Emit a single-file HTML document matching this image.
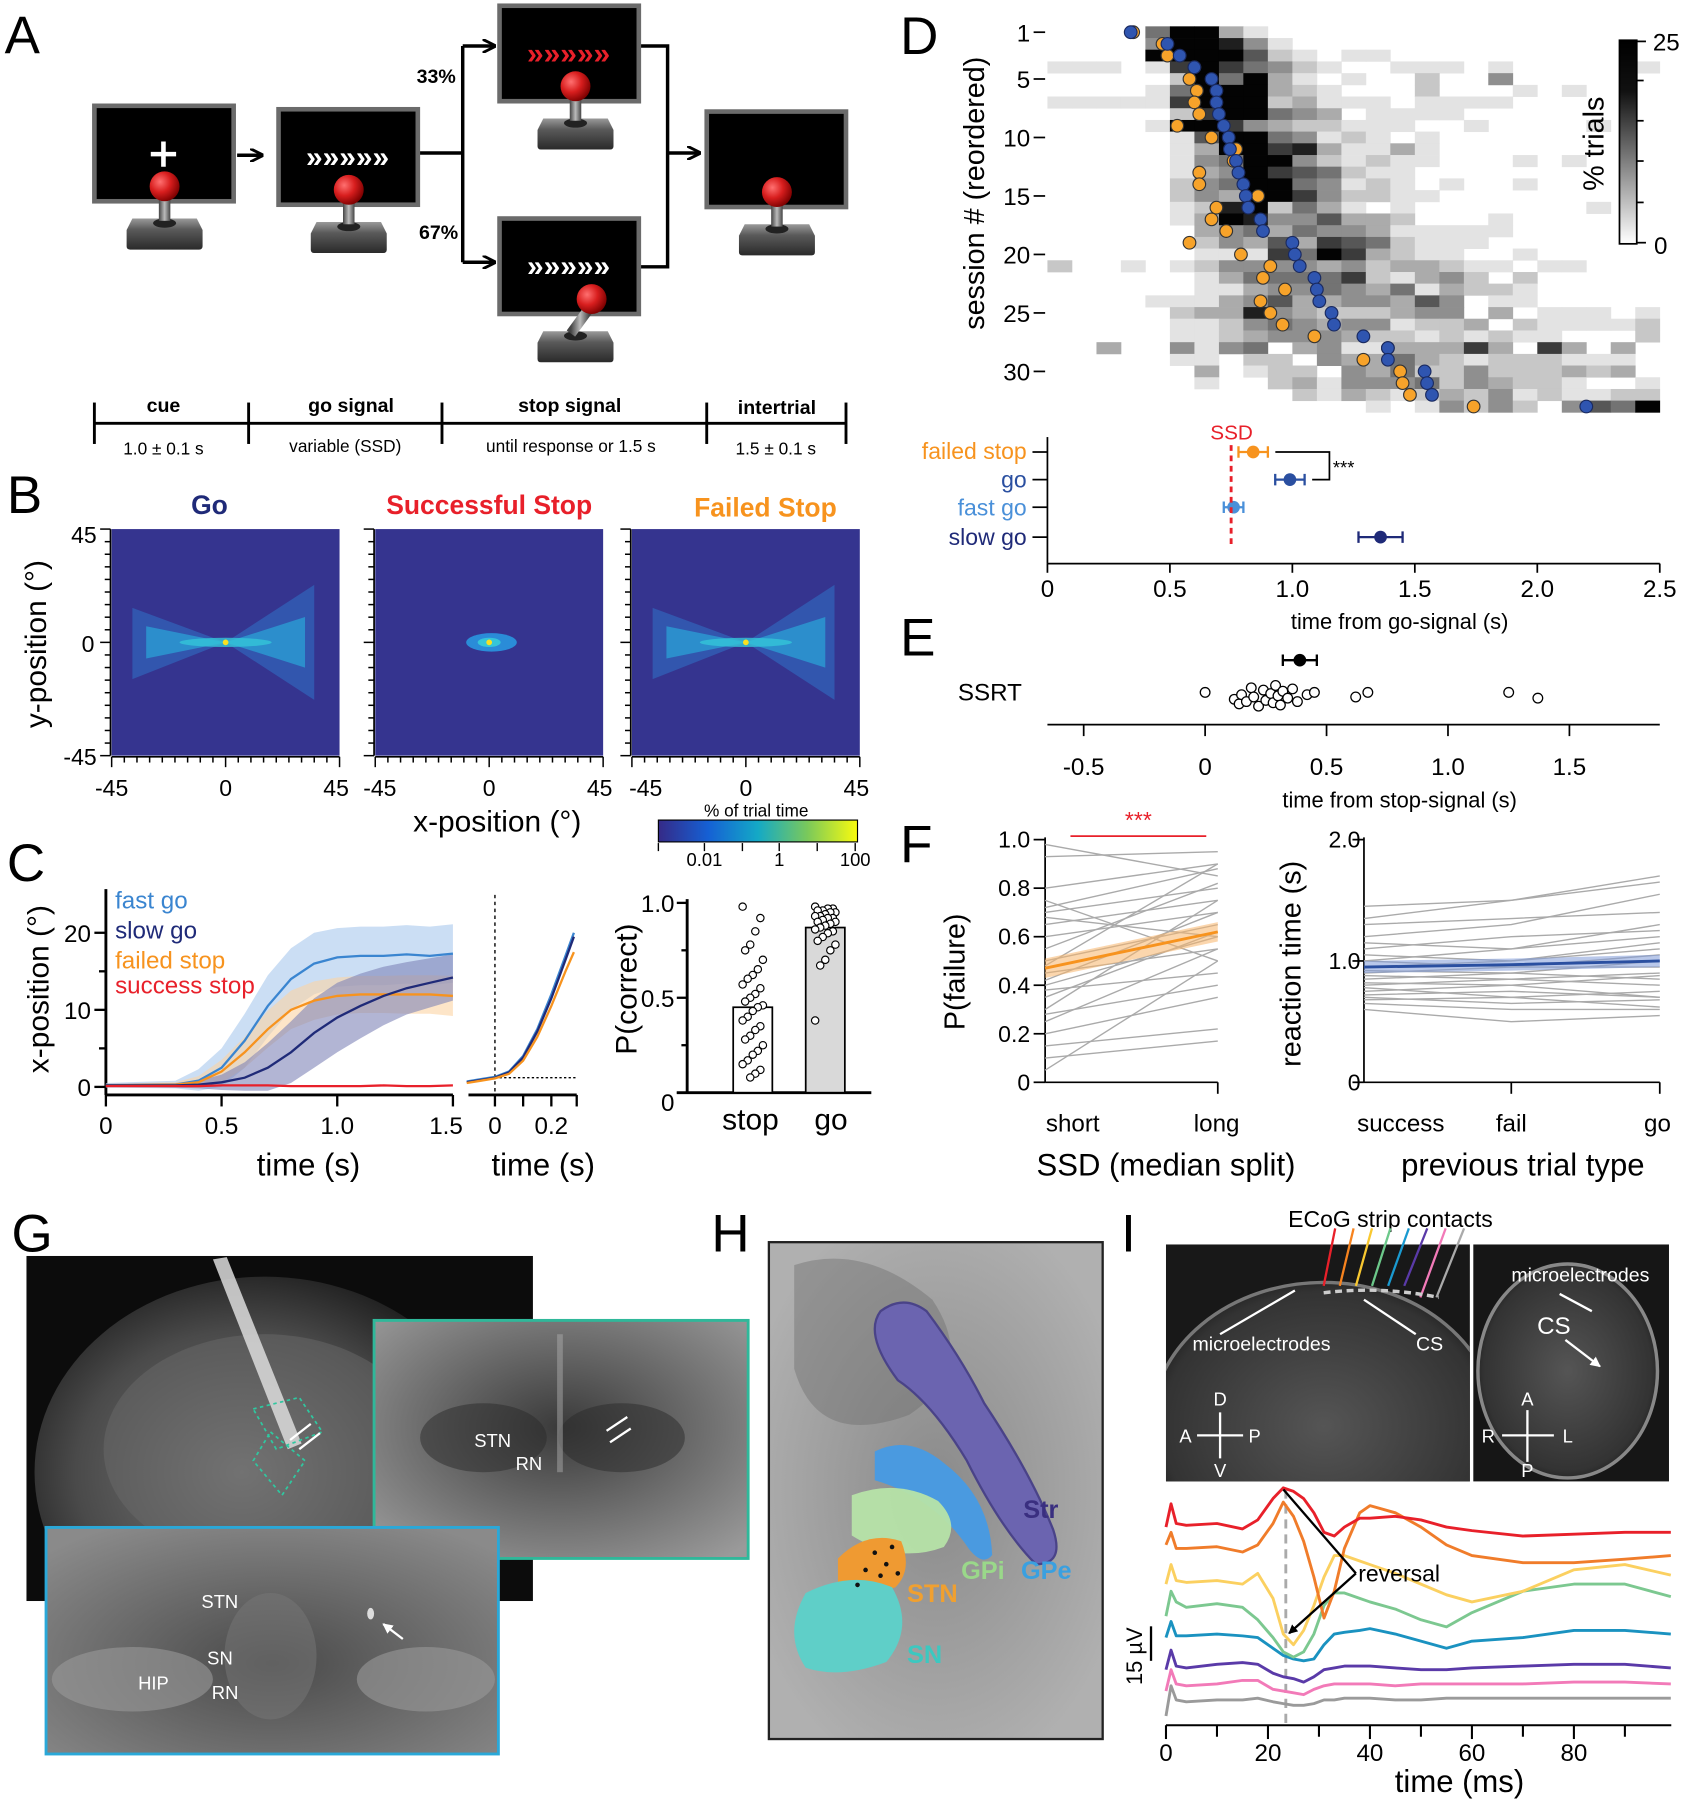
<!DOCTYPE html>
<html><head><meta charset="utf-8">
<style>
html,body{margin:0;padding:0;background:#fff;}
svg{display:block;font-family:"Liberation Sans",Arial,sans-serif;}
</style></head>
<body>
<svg id="fig" xmlns="http://www.w3.org/2000/svg" width="1692" height="1800" viewBox="0 0 1470 1565" preserveAspectRatio="none">
<defs>
<radialGradient id="ball" cx="0.35" cy="0.35" r="0.7"><stop offset="0" stop-color="#ff7070"/><stop offset="0.5" stop-color="#d81e1e"/><stop offset="1" stop-color="#7a0000"/></radialGradient>
<linearGradient id="base" x1="0" y1="0" x2="0" y2="1"><stop offset="0" stop-color="#9a9a9a"/><stop offset="0.35" stop-color="#5a5a5a"/><stop offset="1" stop-color="#2a2a2a"/></linearGradient>
<linearGradient id="stick" x1="0" y1="0" x2="1" y2="0"><stop offset="0" stop-color="#444"/><stop offset="0.5" stop-color="#bbb"/><stop offset="1" stop-color="#444"/></linearGradient>
<linearGradient id="cbar" x1="0" y1="0" x2="1" y2="0"><stop offset="0" stop-color="#352a87"/><stop offset="0.25" stop-color="#1560d4"/><stop offset="0.5" stop-color="#14a9c6"/><stop offset="0.75" stop-color="#7bc95a"/><stop offset="1" stop-color="#f9fb0e"/></linearGradient>
<linearGradient id="gbar" x1="0" y1="0" x2="0" y2="1"><stop offset="0" stop-color="#000"/><stop offset="0.25" stop-color="#111"/><stop offset="1" stop-color="#fff"/></linearGradient>
<radialGradient id="mri1" cx="0.45" cy="0.5" r="0.6"><stop offset="0" stop-color="#7a7a7a"/><stop offset="0.6" stop-color="#4a4a4a"/><stop offset="1" stop-color="#111"/></radialGradient>
<radialGradient id="mri2" cx="0.5" cy="0.45" r="0.7"><stop offset="0" stop-color="#3a3a3a"/><stop offset="0.5" stop-color="#6a6a6a"/><stop offset="1" stop-color="#9a9a9a"/></radialGradient>
<radialGradient id="mri3" cx="0.5" cy="0.6" r="0.7"><stop offset="0" stop-color="#4a4a4a"/><stop offset="1" stop-color="#8a8a8a"/></radialGradient>
<radialGradient id="mri4" cx="0.5" cy="0.5" r="0.6"><stop offset="0" stop-color="#8a8a8a"/><stop offset="1" stop-color="#b0b0b0"/></radialGradient>
<radialGradient id="mri5" cx="0.5" cy="0.5" r="0.55"><stop offset="0" stop-color="#555"/><stop offset="0.85" stop-color="#333"/><stop offset="1" stop-color="#1a1a1a"/></radialGradient>
<clipPath id="clipG"><rect x="23" y="1092" width="440" height="300"/></clipPath>
<clipPath id="clipI1"><rect x="1013" y="1082" width="264" height="206"/></clipPath>
<clipPath id="clipI2"><rect x="1280" y="1082" width="170" height="206"/></clipPath>
<marker id="arrK" markerWidth="8" markerHeight="8" refX="7" refY="4" orient="auto" markerUnits="userSpaceOnUse"><path d="M0,0 L8,4 L0,8 Z" fill="#000"/></marker>
<marker id="arrA" markerWidth="12" markerHeight="12" refX="11" refY="6" orient="auto" markerUnits="userSpaceOnUse"><path d="M0,0 L12,6 L0,12" fill="none" stroke="#000" stroke-width="2.5"/></marker>
<marker id="arrW" markerWidth="9" markerHeight="9" refX="8" refY="4.5" orient="auto" markerUnits="userSpaceOnUse"><path d="M0,0 L9,4.5 L0,9 Z" fill="#fff"/></marker>
</defs>

<!-- ============ PANEL A ============ -->
<g id="panelA">
<text x="4" y="46" font-size="46">A</text>
<g fill="none" stroke="#000" stroke-width="3">
<path d="M206,135 H228" marker-end="url(#arrA)"/>
<path d="M364,133 H402 M402,40 V228"/>
<path d="M402,40 H430" marker-end="url(#arrA)"/>
<path d="M402,228 H430" marker-end="url(#arrA)"/>
<path d="M556,40 H580 V232 H556"/>
<path d="M580,133 H608" marker-end="url(#arrA)"/>
</g>
<text x="362" y="72" font-size="17" font-weight="bold">33%</text>
<text x="364" y="208" font-size="17" font-weight="bold">67%</text>
<g id="monitors"></g>
<g stroke="#000" stroke-width="2.5">
<line x1="82" y1="368" x2="735" y2="368"/>
<line x1="82" y1="350" x2="82" y2="386"/><line x1="216" y1="350" x2="216" y2="386"/>
<line x1="384" y1="350" x2="384" y2="386"/><line x1="614" y1="350" x2="614" y2="386"/>
<line x1="735" y1="350" x2="735" y2="386"/>
</g>
<g font-size="17" font-weight="bold" text-anchor="middle">
<text x="142" y="358">cue</text><text x="305" y="358">go signal</text>
<text x="495" y="358">stop signal</text><text x="675" y="360">intertrial</text>
</g>
<g font-size="15" text-anchor="middle">
<text x="142" y="395">1.0 ± 0.1 s</text><text x="300" y="393">variable (SSD)</text>
<text x="496" y="393">until response or 1.5 s</text><text x="674" y="395">1.5 ± 0.1 s</text>
</g>
</g>

<!-- ============ PANEL B ============ -->
<g id="panelB">
<text x="6" y="446" font-size="46">B</text>
<text x="182" y="447" font-size="23" font-weight="bold" fill="#1f2a78" text-anchor="middle">Go</text>
<text x="425" y="447" font-size="23" font-weight="bold" fill="#e8202a" text-anchor="middle">Successful Stop</text>
<text x="665" y="449" font-size="23" font-weight="bold" fill="#f7931e" text-anchor="middle">Failed Stop</text>
<g id="bmaps"></g>
<g font-size="20" text-anchor="end">
<text x="84" y="472">45</text><text x="82" y="567">0</text><text x="84" y="665">-45</text>
</g>
<text transform="translate(40,560) rotate(-90)" font-size="26" text-anchor="middle">y-position (°)</text>
<g font-size="20" text-anchor="middle">
<text x="97" y="692">-45</text><text x="196" y="692">0</text><text x="292" y="692">45</text>
<text x="330" y="692">-45</text><text x="425" y="692">0</text><text x="521" y="692">45</text>
<text x="561" y="692">-45</text><text x="648" y="692">0</text><text x="744" y="692">45</text>
</g>
<text x="432" y="723" font-size="26" text-anchor="middle">x-position (°)</text>
<text x="657" y="710" font-size="15" text-anchor="middle">% of trial time</text>
<rect x="572" y="713" width="173" height="19" fill="url(#cbar)" stroke="#000" stroke-width="1"/>
<g stroke="#000" stroke-width="1.2"><line x1="572" y1="733" x2="572" y2="740"/><line x1="612" y1="733" x2="612" y2="740"/><line x1="645" y1="733" x2="645" y2="740"/><line x1="677" y1="733" x2="677" y2="740"/><line x1="710" y1="733" x2="710" y2="740"/><line x1="743" y1="733" x2="743" y2="740"/></g>
<g font-size="16" text-anchor="middle"><text x="612" y="753">0.01</text><text x="677" y="753">1</text><text x="743" y="753">100</text></g>
</g>

<!-- ============ PANEL C ============ -->
<g id="panelC">
<text x="6" y="766" font-size="46">C</text>
<g id="cplot"></g>
<text transform="translate(42,860) rotate(-90)" font-size="26" text-anchor="middle">x-position (°)</text>
<text x="268" y="1022" font-size="27" text-anchor="middle">time (s)</text>
<text x="472" y="1022" font-size="27" text-anchor="middle">time (s)</text>
<g font-size="21">
<text x="100" y="790" fill="#3a85d0">fast go</text>
<text x="100" y="816" fill="#1f2a78">slow go</text>
<text x="100" y="842" fill="#f7931e">failed stop</text>
<text x="100" y="864" fill="#e8202a">success stop</text>
</g>
<text transform="translate(553,860) rotate(-90)" font-size="26" text-anchor="middle">P(correct)</text>
<text x="652" y="982" font-size="26" text-anchor="middle">stop</text>
<text x="722" y="982" font-size="26" text-anchor="middle">go</text>
</g>

<!-- ============ PANEL D ============ -->
<g id="panelD">
<text x="782" y="47" font-size="46">D</text>
<g id="dplot"></g>
<text transform="translate(855,168) rotate(-90)" font-size="25" text-anchor="middle">session # (reordered)</text>
<rect x="1407" y="35" width="15" height="177" fill="url(#gbar)" stroke="#000" stroke-width="1.5"/>
<g stroke="#000" stroke-width="1.5"><line x1="1422" y1="36" x2="1430" y2="36"/><line x1="1422" y1="70" x2="1428" y2="70"/><line x1="1422" y1="105" x2="1428" y2="105"/><line x1="1422" y1="140" x2="1428" y2="140"/><line x1="1422" y1="176" x2="1428" y2="176"/><line x1="1422" y1="211" x2="1430" y2="211"/></g>
<text x="1436" y="44" font-size="21">25</text><text x="1437" y="221" font-size="21">0</text>
<text transform="translate(1393,125) rotate(-90)" font-size="25" text-anchor="middle">% trials</text>
<g font-size="20" text-anchor="end">
<text x="892" y="399" fill="#f7931e">failed stop</text>
<text x="892" y="424" fill="#2a4fa0">go</text>
<text x="892" y="448" fill="#4a90d9">fast go</text>
<text x="892" y="474" fill="#1f2a78">slow go</text>
</g>
<text x="1070" y="382" font-size="18" fill="#e8202a" text-anchor="middle">SSD</text>
<text x="1216" y="547" font-size="19" text-anchor="middle">time from go-signal (s)</text>
</g>

<!-- ============ PANEL E ============ -->
<g id="panelE">
<text x="782" y="570" font-size="46">E</text>
<text x="860" y="609" font-size="21" text-anchor="middle">SSRT</text>
<g id="eplot"></g>
<text x="1216" y="702" font-size="19" text-anchor="middle">time from stop-signal (s)</text>
</g>

<!-- ============ PANEL F ============ -->
<g id="panelF">
<text x="782" y="750" font-size="46">F</text>
<g id="fplot"></g>
<text transform="translate(838,845) rotate(-90)" font-size="25" text-anchor="middle">P(failure)</text>
<text transform="translate(1130,838) rotate(-90)" font-size="25" text-anchor="middle">reaction time (s)</text>
<text x="932" y="984" font-size="21" text-anchor="middle">short</text>
<text x="1057" y="984" font-size="21" text-anchor="middle">long</text>
<text x="1217" y="984" font-size="21" text-anchor="middle">success</text>
<text x="1313" y="984" font-size="21" text-anchor="middle">fail</text>
<text x="1440" y="984" font-size="21" text-anchor="middle">go</text>
<text x="1013" y="1022" font-size="27" text-anchor="middle">SSD (median split)</text>
<text x="1323" y="1022" font-size="27" text-anchor="middle">previous trial type</text>
<line x1="930" y1="727" x2="1048" y2="727" stroke="#e8202a" stroke-width="1.5"/>
<text x="989" y="720" font-size="20" fill="#e8202a" text-anchor="middle">***</text>
</g>

<!-- ============ PANEL G ============ -->
<g id="panelG">
<text x="10" y="1088" font-size="46">G</text>
<rect x="23" y="1092" width="440" height="300" fill="#0c0c0c"/>
<g clip-path="url(#clipG)">
<ellipse cx="230" cy="1280" rx="200" ry="170" fill="url(#mri1)"/>
<ellipse cx="230" cy="1260" rx="140" ry="100" fill="#6a6a6a" opacity="0.5"/>
<path d="M185,1095 L250,1260 L262,1255 L197,1093 Z" fill="#dcdcdc" opacity="0.85"/>
<path d="M220,1225 l40,-10 l20,30 l-40,15 Z M235,1245 l30,25 l-20,30 l-25,-30 Z" fill="none" stroke="#2fc8a0" stroke-width="1.5" stroke-dasharray="3,3"/>
<path d="M270,1238 l-18,14 M278,1246 l-18,14" stroke="#fff" stroke-width="2"/>
</g>
<rect x="325" y="1148" width="325" height="207" fill="url(#mri2)" stroke="#2fb89a" stroke-width="2.5"/>
<ellipse cx="420" cy="1250" rx="55" ry="30" fill="#2a2a2a" opacity="0.5"/>
<ellipse cx="540" cy="1250" rx="55" ry="30" fill="#2a2a2a" opacity="0.5"/>
<rect x="484" y="1160" width="5" height="120" fill="#aaa" opacity="0.5"/>
<text x="412" y="1258" font-size="16" fill="#fff">STN</text>
<text x="448" y="1278" font-size="16" fill="#fff">RN</text>
<path d="M545,1232 l-18,12 M548,1242 l-18,12" stroke="#fff" stroke-width="2"/>
<rect x="40" y="1328" width="393" height="197" fill="url(#mri3)" stroke="#2aa8d8" stroke-width="2.5"/>
<ellipse cx="115" cy="1460" rx="70" ry="28" fill="#9a9a9a" opacity="0.6"/>
<ellipse cx="370" cy="1460" rx="60" ry="28" fill="#9a9a9a" opacity="0.6"/>
<ellipse cx="235" cy="1440" rx="40" ry="55" fill="#777" opacity="0.5"/>
<text x="175" y="1398" font-size="16" fill="#fff">STN</text>
<text x="180" y="1447" font-size="16" fill="#fff">SN</text>
<text x="120" y="1469" font-size="16" fill="#fff">HIP</text>
<text x="184" y="1477" font-size="16" fill="#fff">RN</text>
<ellipse cx="322" cy="1403" rx="3" ry="5" fill="#ddd"/>
<path d="M350,1425 L333,1412" stroke="#fff" stroke-width="2" marker-end="url(#arrW)"/>
</g>

<!-- ============ PANEL H ============ -->
<g id="panelH">
<text x="618" y="1088" font-size="46">H</text>
<rect x="668" y="1080" width="290" height="432" fill="url(#mri4)" stroke="#222" stroke-width="2"/>
<path d="M690,1100 q60,-20 120,30 q40,60 -20,100 q-80,30 -100,-40 z" fill="#6a6a6a" opacity="0.4"/>
<path d="M765,1140 q20,-15 40,0 q30,40 50,80 q40,60 60,110 q10,30 -15,30 q-30,-30 -60,-90 q-30,-50 -60,-70 q-30,-40 -15,-60 z" fill="#6b64b0" stroke="#4a4388" stroke-width="2"/>
<path d="M760,1262 q30,-15 60,10 q40,30 42,80 q-8,10 -20,-5 q-30,-45 -82,-60 z" fill="#4a9ae0"/>
<path d="M740,1300 q40,-15 75,5 q20,20 5,40 q-40,15 -80,-10 z" fill="#b6e3a8" opacity="0.95"/>
<path d="M728,1355 q25,-25 55,-15 q10,25 -5,40 q-30,10 -50,0 z" fill="#ef9a32"/>
<path d="M700,1385 q40,-20 75,-5 q20,35 -5,65 q-40,15 -70,5 q-20,-30 0,-65 z" fill="#5fcfc8"/>
<g fill="#111"><circle cx="760" cy="1350" r="2"/><circle cx="770" cy="1360" r="2"/><circle cx="752" cy="1365" r="2"/><circle cx="775" cy="1345" r="2"/><circle cx="765" cy="1370" r="2"/><circle cx="745" cy="1378" r="2"/><circle cx="780" cy="1368" r="2"/></g>
<text x="889" y="1320" font-size="22" font-weight="bold" fill="#3a2f80">Str</text>
<text x="835" y="1373" font-size="22" font-weight="bold" fill="#9ad88a">GPi</text>
<text x="887" y="1373" font-size="22" font-weight="bold" fill="#3aa0e0">GPe</text>
<text x="788" y="1393" font-size="22" font-weight="bold" fill="#f0a030">STN</text>
<text x="788" y="1446" font-size="22" font-weight="bold" fill="#3cc8c0">SN</text>
</g>

<!-- ============ PANEL I ============ -->
<g id="panelI">
<text x="974" y="1088" font-size="46">I</text>
<text x="1208" y="1067" font-size="20" text-anchor="middle">ECoG strip contacts</text>
<rect x="1013" y="1082" width="264" height="206" fill="#181818"/>
<g clip-path="url(#clipI1)"><ellipse cx="1150" cy="1240" rx="150" ry="125" fill="url(#mri5)" stroke="#777" stroke-width="3"/></g>
<rect x="1280" y="1082" width="170" height="206" fill="#161616"/>
<g clip-path="url(#clipI2)"><ellipse cx="1362" cy="1192" rx="78" ry="93" fill="url(#mri5)" stroke="#888" stroke-width="3"/></g>
<g id="ecogArrows"></g>
<text x="1096" y="1174" font-size="17" fill="#fff" text-anchor="middle">microelectrodes</text>
<text x="1242" y="1174" font-size="17" fill="#fff" text-anchor="middle">CS</text>
<text x="1373" y="1114" font-size="17" fill="#fff" text-anchor="middle">microelectrodes</text>
<text x="1350" y="1160" font-size="21" fill="#fff" text-anchor="middle">CS</text>
<path d="M1060,1160 L1125,1122 M1230,1160 L1185,1130 M1355,1125 L1383,1140 M1360,1165 L1390,1188" stroke="#fff" stroke-width="2" marker-end="url(#arrW)"/>
<g stroke="#fff" stroke-width="2" fill="none"><path d="M1040,1248 h40 M1060,1228 v40 M1305,1248 h45 M1327,1226 v45"/></g>
<g fill="#fff" font-size="16" text-anchor="middle"><text x="1060" y="1222">D</text><text x="1060" y="1284">V</text><text x="1030" y="1254">A</text><text x="1090" y="1254">P</text>
<text x="1327" y="1222">A</text><text x="1327" y="1284">P</text><text x="1293" y="1254">R</text><text x="1362" y="1254">L</text></g>
<g id="iplot"></g>
<text x="1268" y="1558" font-size="27" text-anchor="middle">time (ms)</text>
<text transform="translate(992,1440) rotate(-90)" font-size="19" text-anchor="middle">15 µV</text>
<line x1="1000" y1="1414" x2="1000" y2="1444" stroke="#000" stroke-width="2"/>
<text x="1180" y="1375" font-size="20">reversal</text>
<path d="M1178,1368 L1115,1295 M1178,1368 L1120,1420" stroke="#000" stroke-width="2" fill="none" marker-end="url(#arrK)"/>
</g>
</svg>

<script>
// ======================= DATA =======================
// Panel C (trajectories)
var cTimes = [0,0.3,0.4,0.5,0.6,0.7,0.8,0.9,1.0,1.1,1.2,1.3,1.4,1.5];
var cFastGo = [0.2,0.3,0.8,2.5,6,10.5,14,16,16.8,17,17,17.2,17,17.3];
var cSlowGo = [0.2,0.2,0.3,0.6,1.2,2.5,4.5,7,9,10.5,11.8,12.8,13.5,14.2];
var cFailedStop = [0.2,0.3,0.6,2,4.5,7.5,10,11.2,11.8,12,12,12,12,11.8];
var cSuccessStop = [0.1,0.1,0.1,0.2,0.2,0.2,0.1,0.1,0.1,0.1,0.2,0.1,0.1,0.2];
var cFastGoSem = [0.3,0.5,1.5,2.5,3.5,4,4,4,3.8,3.8,3.8,3.8,3.8,3.8];
var cSlowGoSem = [0.2,0.3,0.5,1,2,3.2,4,4.5,4.5,4.2,3.8,3.4,3.2,3];
var cFailedStopSem = [0.2,0.3,0.8,1.5,2,2.4,2.5,2.5,2.4,2.4,2.4,2.5,2.5,2.6];
var cAlignTimes = [-0.1,-0.05,0,0.05,0.1,0.15,0.2,0.25,0.28];
var cAlignFast = [0.7,1,1.3,2,4,7.5,12,17,20];
var cAlignSlow = [0.6,0.9,1.2,1.9,3.8,7.2,11.5,16.5,19.5];
var cAlignFailed = [0.5,0.8,1.1,1.7,3.4,6.5,10.5,15,17.5];
var cYTicks = [0,10,20];
var cXTicks = [0,0.5,1.0,1.5];
var cXTickLabels = ["0","0.5","1.0","1.5"];
// P(correct) bars
var barCats = ["stop","go"];
var barMeans = [0.45,0.87];
var barStopPts = [0.98,0.92,0.85,0.78,0.75,0.7,0.65,0.62,0.6,0.57,0.55,0.52,0.5,0.48,0.46,0.45,0.43,0.4,0.38,0.35,0.33,0.3,0.28,0.25,0.22,0.2,0.17,0.15,0.12,0.1,0.08];
var barGoPts = [0.98,0.97,0.97,0.96,0.96,0.95,0.95,0.94,0.93,0.93,0.92,0.92,0.91,0.9,0.9,0.89,0.88,0.87,0.86,0.85,0.84,0.82,0.8,0.78,0.75,0.7,0.67,0.38];
// Panel D heatmap (33 sessions x 25 bins of 0.1 s, intensity 0-9)
var dRows = [
"0000599310000000000000000","0000499841000000000000000","0000999962101100000000000","1110179754210011101000001",
"0000029593101002004000000","0000159993210002000101000","1111179992311101111000000","0000027995430111100000000",
"0000199743221110010000100","0000016995412101000000000","0000013997831131000000000","0000014599421211000101000",
"0000013497652110000000000","0000024599541210100100000","0000024399742211000000000","0000012892531010000000100",
"0000013984463320001000000","0000003453544311111000000","0000002436376521110000000","0000001117597321100100000",
"2001012444434233211011000","0000001355557213420200000","0000001134454351322100000","0000111346334436401100000",
"0000023384322234403011101","0000011245434412230211112","0000011234443221212110002","0030041450341133373073030",
"0000011022043353212221110","0000003012204352242223230","0000001002314445243221001","0000000000213212324121122",
"0000000000000101424204659"];
var dBlue = [0.34,0.49,0.54,0.60,0.67,0.69,0.69,0.70,0.72,0.74,0.745,0.77,0.78,0.80,0.81,0.82,0.87,0.88,1.00,1.01,1.03,1.09,1.10,1.11,1.16,1.17,1.29,1.39,1.39,1.54,1.55,1.57,2.20];
var dOrange = [0.35,0.47,0.49,0.60,0.58,0.61,0.60,0.62,0.53,0.67,0.77,0.76,0.62,0.62,0.86,0.69,0.67,0.73,0.58,0.79,0.91,0.88,0.97,0.87,0.91,0.96,1.09,1.39,1.29,1.44,1.45,1.48,1.74];
var dSessionTicks = [1,5,10,15,20,25,30];
var dXTicks = [0,0.5,1.0,1.5,2.0,2.5];
var dXTickLabels = ["0","0.5","1.0","1.5","2.0","2.5"];
var dSummaryNames = ["failed stop","go","fast go","slow go"];
var dSummaryMean = [0.84,0.99,0.76,1.36];
var dSummaryErr = [0.06,0.06,0.04,0.09];
var dSSD = 0.75;
// Panel E
var eSSRT = [0.0,0.12,0.14,0.15,0.17,0.19,0.2,0.22,0.24,0.25,0.27,0.28,0.29,0.3,0.31,0.32,0.34,0.36,0.38,0.42,0.45,0.62,0.67,1.25,1.37];
var eMean = 0.39, eErr = 0.07;
var eXTicks = [-0.5,0,0.5,1.0,1.5];
var eXTickLabels = ["-0.5","0","0.5","1.0","1.5"];
// Panel F
var fPairs = [[0.98,0.85],[0.93,0.95],[0.8,0.9],[0.75,0.5],[0.72,0.88],[0.7,0.8],[0.68,0.6],[0.65,0.75],[0.6,0.7],[0.55,0.82],[0.5,0.65],[0.48,0.9],[0.45,0.55],[0.42,0.7],[0.4,0.6],[0.38,0.45],[0.35,0.62],[0.3,0.75],[0.28,0.4],[0.25,0.55],[0.2,0.35],[0.15,0.22],[0.1,0.17],[0.05,0.5]];
var fPairMean = [0.47,0.62];
var fPairSem = [0.04,0.04];
var fTriples = [[1.45,1.5,1.7],[1.35,1.5,1.65],[1.3,1.35,1.4],[1.2,1.3,1.55],[1.15,1.1,1.3],[1.1,1.2,1.25],[1.05,1.0,1.15],[1.0,1.1,1.2],[1.0,0.95,1.05],[0.95,1.0,1.1],[0.92,0.9,1.0],[0.9,0.95,0.95],[0.88,0.85,0.9],[0.85,0.9,0.85],[0.82,0.8,0.88],[0.8,0.85,0.8],[0.78,0.7,0.75],[0.75,0.8,0.7],[0.72,0.75,0.7],[0.7,0.65,0.68],[0.68,0.7,0.62],[0.65,0.6,0.6],[0.6,0.5,0.55]];
var fTripleMean = [0.95,0.97,1.0];
var fTripleSem = [0.05,0.05,0.05];
var fLeftTicks = [0,0.2,0.4,0.6,0.8,1.0];
var fLeftTickLabels = ["0","0.2","0.4","0.6","0.8","1.0"];
var fRightTicks = [0,1.0,2.0];
var fRightTickLabels = ["0","1.0","2.0"];
// Panel I ECoG traces (amplitude in 0.15 µV units above the time axis)
var iTimes = [0,1,2,4,10,15,18,21,23,25,27,29,31,33,35,38,40,45,50,55,60,70,80,90,99];
var iRed = [530,595,540,535,540,525,550,610,640,630,610,570,515,505,530,555,555,560,550,530,520,505,510,515,515];
var iOrange = [480,515,470,470,475,460,480,540,600,560,490,390,275,350,470,570,590,570,530,480,450,430,430,440,450];
var iYellow = [370,425,380,375,380,370,400,330,230,200,240,310,390,450,450,435,425,400,370,340,320,350,410,425,395];
var iGreen = [280,350,320,305,315,305,270,220,180,165,180,230,310,345,345,330,320,300,270,250,290,350,370,370,335];
var iTeal = [220,265,225,225,230,225,220,190,170,160,155,160,200,230,235,240,245,230,210,190,210,220,240,240,230];
var iPurple = [130,185,140,135,145,150,145,120,110,105,95,110,130,135,140,140,140,135,130,130,135,140,145,145,135];
var iPink = [70,130,90,85,90,100,100,75,70,65,60,75,85,90,90,90,90,85,90,90,90,90,95,95,90];
var iGray = [0,85,45,40,45,45,50,40,35,30,30,35,45,45,50,50,50,45,45,50,50,50,50,50,50];
var iXTicks = [0,20,40,60,80];
var iXTickLabels = ["0","20","40","60","80"];

// ======================= HELPERS =======================
var NS = "http://www.w3.org/2000/svg";
function mk(tag, attrs, parent){var e=document.createElementNS(NS,tag);for(var k in attrs)e.setAttribute(k,attrs[k]);if(parent)parent.appendChild(e);return e;}
function txt(s, attrs, parent){var e=mk("text",attrs,parent);e.textContent=s;return e;}
function linePath(xs, ys, fx, fy){var d="";for(var i=0;i<xs.length;i++){d+=(i?"L":"M")+fx(xs[i]).toFixed(1)+","+fy(ys[i]).toFixed(1);}return d;}
function bandPath(xs, ys, err, fx, fy){var d="";for(var i=0;i<xs.length;i++){d+=(i?"L":"M")+fx(xs[i]).toFixed(1)+","+fy(ys[i]+err[i]).toFixed(1);}for(var j=xs.length-1;j>=0;j--){d+="L"+fx(xs[j]).toFixed(1)+","+fy(Math.max(ys[j]-err[j],-0.5)).toFixed(1);}return d+"Z";}

// ======================= PANEL A monitors =======================
(function(){
  var g=document.getElementById("monitors");
  var mons=[[82,92,"cross"],[242,95,"white"],[434,5,"red"],[434,190,"white"],[614,97,"none"]];
  var joys=[[143,0],[303,0],[500,0],[500,1],[675,0]];
  for(var i=0;i<mons.length;i++){
    var m=mons[i];
    var r=mk("rect",{x:m[0],y:m[1],width:121,height:83,fill:"#000",stroke:"#6b6b6b","stroke-width":4},g);
    
    
    var cx=m[0]+60, cy=m[1]+42;
    if(m[2]==="cross"){mk("path",{d:"M"+(cx-11)+","+cy+"h22M"+cx+","+(cy-11)+"v22",stroke:"#fff","stroke-width":4},g);}
    if(m[2]==="white"||m[2]==="red"){txt("»»»»»",{x:cx,y:cy+8,"font-size":26,"font-weight":"bold",fill:(m[2]==="red"?"#e8202a":"#fff"),"text-anchor":"middle"},g);}
    var jx=joys[i][0], tilt=joys[i][1];
    var jy=m[1]+100;
    mk("path",{d:"M"+(jx-33)+","+(jy+8)+"L"+(jx-28)+","+(jy-2)+"H"+(jx+28)+"L"+(jx+33)+","+(jy+8)+"V"+(jy+22)+"Q"+(jx+33)+","+(jy+25)+" "+(jx+30)+","+(jy+25)+"H"+(jx-30)+"Q"+(jx-33)+","+(jy+25)+" "+(jx-33)+","+(jy+22)+"Z",fill:"url(#base)"},g);
    mk("ellipse",{cx:jx,cy:jy+2,rx:10,ry:4,fill:"#222"},g);
    if(tilt){mk("line",{x1:jx-4,y1:jy,x2:jx+12,y2:jy-22,stroke:"url(#stick)","stroke-width":9},g);mk("circle",{cx:jx+14,cy:jy-30,r:13,fill:"url(#ball)"},g);}
    else{mk("rect",{x:jx-5,y:jy-22,width:10,height:22,fill:"url(#stick)"},g);mk("circle",{cx:jx,cy:jy-30,r:13,fill:"url(#ball)"},g);}
  }
})();

// ======================= PANEL B heatmaps =======================
(function(){
  var g=document.getElementById("bmaps");
  var xs=[97,326,549];
  for(var i=0;i<3;i++){
    var x0=xs[i], w=198, y0=460, h=197, cx=x0+w/2, cy=y0+h/2;
    var r=mk("rect",{x:x0,y:y0,width:w,height:h,fill:"#35348f"},g);
    
    
    if(i!==1){
      mk("path",{d:"M"+(x0+18)+","+(cy-30)+"L"+cx+","+cy+"L"+(x0+18)+","+(cy+32)+"Z",fill:"#2f72c8",opacity:0.55},g);
      mk("path",{d:"M"+(x0+w-22)+","+(cy-50)+"L"+cx+","+cy+"L"+(x0+w-22)+","+(cy+50)+"Z",fill:"#2f72c8",opacity:0.55},g);
      mk("path",{d:"M"+(x0+30)+","+(cy-14)+"L"+cx+","+cy+"L"+(x0+30)+","+(cy+14)+"Z",fill:"#2aa6d8",opacity:0.7},g);
      mk("path",{d:"M"+(x0+w-30)+","+(cy-22)+"L"+cx+","+cy+"L"+(x0+w-30)+","+(cy+22)+"Z",fill:"#2aa6d8",opacity:0.7},g);
      mk("ellipse",{cx:cx,cy:cy,rx:40,ry:4,fill:"#35c6d8",opacity:0.8},g);
    } else {
      mk("ellipse",{cx:cx+2,cy:cy,rx:22,ry:8,fill:"#2a8cd8"},g);
      mk("ellipse",{cx:cx,cy:cy,rx:10,ry:4,fill:"#35c6d8"},g);
    }
    mk("circle",{cx:cx,cy:cy,r:2.5,fill:"#f9e020"},g);
    mk("line",{x1:x0-1,y1:y0,x2:x0-1,y2:y0+h,stroke:"#000","stroke-width":1.5},g);
    mk("line",{x1:x0,y1:y0+h+1,x2:x0+w,y2:y0+h+1,stroke:"#000","stroke-width":1.5},g);
    for(var k=0;k<=18;k++){
      var yy=y0+k*h/18, len=(k%9===0)?9:5;
      mk("line",{x1:x0-1-len,y1:yy,x2:x0-1,y2:yy,stroke:"#000","stroke-width":1.3},g);
      var xx=x0+k*w/18;
      mk("line",{x1:xx,y1:y0+h+1,x2:xx,y2:y0+h+1+len,stroke:"#000","stroke-width":1.3},g);
    }
  }
})();

// ======================= PANEL C =======================
(function(){
  var g=document.getElementById("cplot");
  var xC=function(t){return 92+t*201;}, yC=function(v){return 945-v*6.7;};
  var xM=function(t){return 430+t*245;};
  mk("line",{x1:92,y1:773,x2:92,y2:952,stroke:"#000","stroke-width":2.5},g);
  mk("line",{x1:92,y1:952,x2:xC(1.5),y2:952,stroke:"#000","stroke-width":2.5},g);
  for(var i=0;i<cYTicks.length;i++){var yy=yC(cYTicks[i]);mk("line",{x1:82,y1:yy,x2:92,y2:yy,stroke:"#000","stroke-width":2},g);txt(String(cYTicks[i]),{x:79,y:yy+8,"font-size":21,"text-anchor":"end"},g);}
  [5,15].forEach(function(v){mk("line",{x1:86,y1:yC(v),x2:92,y2:yC(v),stroke:"#000","stroke-width":2},g);});
  for(var j=0;j<cXTicks.length;j++){var xx=xC(cXTicks[j]);mk("line",{x1:xx,y1:952,x2:xx,y2:962,stroke:"#000","stroke-width":2},g);txt(cXTickLabels[j],{x:xx-(j===3?6:0),y:986,"font-size":21,"text-anchor":"middle"},g);}
  var series=[[cFastGo,cFastGoSem,"#3a85d0","#a9c8ec","fast-go"],[cFailedStop,cFailedStopSem,"#f7931e","#fbd3a4","failed-stop"],[cSlowGo,cSlowGoSem,"#1f2a78","#7f83b8","slow-go"]];
  series.forEach(function(s){
    var b=mk("path",{d:bandPath(cTimes,s[0],s[1],xC,yC),fill:s[3],opacity:0.6},g);
    
    
  });
  series.forEach(function(s){
    var l=mk("path",{d:linePath(cTimes,s[0],xC,yC),fill:"none",stroke:s[2],"stroke-width":2},g);
    
    
  });
  var ls=mk("path",{d:linePath(cTimes,cSuccessStop,xC,yC),fill:"none",stroke:"#e8202a","stroke-width":2},g);
  
  
  mk("line",{x1:407,y1:952,x2:xM(0.29),y2:952,stroke:"#000","stroke-width":2.5},g);
  [0,0.1,0.2,0.29].forEach(function(t){mk("line",{x1:xM(t),y1:952,x2:xM(t),y2:962,stroke:"#000","stroke-width":2},g);});
  txt("0",{x:xM(0),y:986,"font-size":21,"text-anchor":"middle"},g);
  txt("0.2",{x:xM(0.2),y:986,"font-size":21,"text-anchor":"middle"},g);
  mk("line",{x1:xM(0),y1:778,x2:xM(0),y2:952,stroke:"#000","stroke-width":1.2,"stroke-dasharray":"3,3"},g);
  mk("line",{x1:xM(0),y1:yC(1.2),x2:xM(0.29),y2:yC(1.2),stroke:"#000","stroke-width":1.2,"stroke-dasharray":"2,2"},g);
  [[cAlignFast,"#3a85d0","aligned-fast-go"],[cAlignSlow,"#1f2a78","aligned-slow-go"],[cAlignFailed,"#f7931e","aligned-failed-stop"]].forEach(function(s){
    var l=mk("path",{d:linePath(cAlignTimes,s[0],xM,yC),fill:"none",stroke:s[1],"stroke-width":2},g);
    
    
  });
  var yB=function(p){return 950-p*165;};
  mk("line",{x1:597,y1:yB(1.02),x2:597,y2:950,stroke:"#000","stroke-width":2.5},g);
  mk("line",{x1:588,y1:950,x2:757,y2:950,stroke:"#000","stroke-width":2.5},g);
  [0,0.5,1.0].forEach(function(v,k){mk("line",{x1:588,y1:yB(v),x2:597,y2:yB(v),stroke:"#000","stroke-width":2},g);txt(["0","0.5","1.0"][k],{x:586,y:yB(v)+(k===0?16:8),"font-size":21,"text-anchor":"end"},g);});
  [0.25,0.75].forEach(function(v){mk("line",{x1:592,y1:yB(v),x2:597,y2:yB(v),stroke:"#000","stroke-width":2},g);});
  var bx=[637,700];
  for(var b=0;b<barCats.length;b++){
    var r=mk("rect",{x:bx[b],y:yB(barMeans[b]),width:34,height:950-yB(barMeans[b]),fill:(b?"#d9d9d9":"#fff"),stroke:"#000","stroke-width":1.5},g);
    
    
    var pts=b?barGoPts:barStopPts;
    for(var p=0;p<pts.length;p++){
      var jit=((p*7)%9-4)*2.2;
      var c=mk("circle",{cx:bx[b]+17+jit,cy:yB(pts[p]),r:3.2,fill:"#fff",stroke:"#000","stroke-width":1},g);
      
      
    }
  }
})();

// ======================= PANEL D =======================
(function(){
  var g=document.getElementById("dplot");
  var xD=function(t){return 910+t*212.8;}, yD=function(s){return 28+(s-1)*10.17;};
  for(var r=0;r<dRows.length;r++){
    for(var c=0;c<dRows[r].length;c++){
      var v=+dRows[r][c]; if(!v) continue;
      var gv=Math.round(255-v*28);
      var cell=mk("rect",{x:xD(c*0.1).toFixed(1),y:(yD(r+1)-5.1).toFixed(1),width:21.6,height:10.5,fill:"rgb("+gv+","+gv+","+gv+")"},g);
      
      
    }
  }
  for(var i=0;i<dSessionTicks.length;i++){var yy=yD(dSessionTicks[i]);mk("line",{x1:898,y1:yy,x2:908,y2:yy,stroke:"#000","stroke-width":1.5},g);txt(String(dSessionTicks[i]),{x:895,y:yy+8,"font-size":21,"text-anchor":"end"},g);}
  for(var s=0;s<dOrange.length;s++){
    var o=mk("circle",{cx:xD(dOrange[s]),cy:yD(s+1),r:5.5,fill:"#f7a32a",stroke:"#333","stroke-width":1},g);
    
    
  }
  for(var s2=0;s2<dBlue.length;s2++){
    var bl=mk("circle",{cx:xD(dBlue[s2]),cy:yD(s2+1),r:5.5,fill:"#2f55b0",stroke:"#1a2a60","stroke-width":1},g);
    
    
  }
  mk("line",{x1:910,y1:380,x2:910,y2:490,stroke:"#000","stroke-width":1.5},g);
  mk("line",{x1:910,y1:490,x2:1442,y2:490,stroke:"#000","stroke-width":1.5},g);
  for(var k=0;k<dXTicks.length;k++){var xx=xD(dXTicks[k]);mk("line",{x1:xx,y1:490,x2:xx,y2:498,stroke:"#000","stroke-width":1.5},g);txt(dXTickLabels[k],{x:xx,y:519,"font-size":21,"text-anchor":"middle"},g);}
  var rowsY=[393,417,441,467], cols=["#f7931e","#2a4fa0","#4a90d9","#1f2a78"];
  for(var q=0;q<dSummaryNames.length;q++){
    var y=rowsY[q];
    mk("line",{x1:897,y1:y,x2:910,y2:y,stroke:"#000","stroke-width":1.5},g);
    var x1=xD(dSummaryMean[q]-dSummaryErr[q]), x2=xD(dSummaryMean[q]+dSummaryErr[q]);
    mk("path",{d:"M"+x1+","+(y-5)+"v10M"+x1+","+y+"H"+x2+"M"+x2+","+(y-5)+"v10",stroke:cols[q],"stroke-width":2,fill:"none"},g);
    var pt=mk("circle",{cx:xD(dSummaryMean[q]),cy:y,r:5.5,fill:cols[q]},g);
    
    
  }
  var ssd=mk("line",{x1:xD(dSSD),y1:387,x2:xD(dSSD),y2:474,stroke:"#e8202a","stroke-width":2.5,"stroke-dasharray":"5,4"},g);
  
  
  mk("path",{d:"M1108,393 H1155 V417 H1140",fill:"none",stroke:"#000","stroke-width":1.5},g);
  txt("***",{x:1158,y:412,"font-size":16},g);
})();

// ======================= PANEL E =======================
(function(){
  var g=document.getElementById("eplot");
  var xE=function(t){return 1047+t*211;};
  mk("line",{x1:910,y1:630,x2:1442,y2:630,stroke:"#000","stroke-width":1.5},g);
  for(var k=0;k<eXTicks.length;k++){var xx=xE(eXTicks[k]);mk("line",{x1:xx,y1:630,x2:xx,y2:640,stroke:"#000","stroke-width":1.5},g);txt(eXTickLabels[k],{x:xx,y:674,"font-size":21,"text-anchor":"middle"},g);}
  var jys=[602,608,612,604,610,598,606,614,600,609,603,611,596,605,613,601,607,599,610,604,602,606,602,602,607];
  for(var i=0;i<eSSRT.length;i++){
    var c=mk("circle",{cx:xE(eSSRT[i]),cy:jys[i%jys.length],r:4.2,fill:"#fff",stroke:"#000","stroke-width":1.1},g);
    
    
  }
  var a=xE(eMean-eErr), b=xE(eMean+eErr);
  mk("path",{d:"M"+a+",569v10M"+a+",574H"+b+"M"+b+",569v10",stroke:"#000","stroke-width":2,fill:"none"},g);
  var m=mk("circle",{cx:xE(eMean),cy:574,r:5.5,fill:"#000"},g);
  
  
})();

// ======================= PANEL F =======================
(function(){
  var g=document.getElementById("fplot");
  var yL=function(p){return 941-p*211;}, xL=[908,1058];
  var yR=function(v){return 941-v*105.5;}, xR=[1185,1313,1442];
  var xl=function(k){return xL[k];}, xr=function(k){return xR[k];};
  mk("line",{x1:908,y1:728,x2:908,y2:941,stroke:"#000","stroke-width":1.5},g);
  mk("line",{x1:908,y1:941,x2:1058,y2:941,stroke:"#000","stroke-width":1.5},g);
  mk("line",{x1:1058,y1:941,x2:1058,y2:951,stroke:"#000","stroke-width":1.5},g);
  for(var i=0;i<fLeftTicks.length;i++){var yy=yL(fLeftTicks[i]);mk("line",{x1:898,y1:yy,x2:908,y2:yy,stroke:"#000","stroke-width":1.5},g);txt(fLeftTickLabels[i],{x:895,y:yy+7,"font-size":20,"text-anchor":"end"},g);}
  fPairs.forEach(function(p){
    var l=mk("path",{d:linePath([0,1],p,xl,yL),stroke:"#aaa","stroke-width":1.2,fill:"none"},g);
    
    
  });
  var bd=mk("path",{d:bandPath([0,1],fPairMean,fPairSem,xl,yL),fill:"#f7b56a",opacity:0.55},g);
  
  
  var ml=mk("path",{d:linePath([0,1],fPairMean,xl,yL),stroke:"#f7931e","stroke-width":2.5,fill:"none"},g);
  
  
  mk("line",{x1:1185,y1:728,x2:1185,y2:941,stroke:"#000","stroke-width":1.5},g);
  mk("line",{x1:1185,y1:941,x2:1442,y2:941,stroke:"#000","stroke-width":1.5},g);
  [1313,1442].forEach(function(x){mk("line",{x1:x,y1:941,x2:x,y2:951,stroke:"#000","stroke-width":1.5},g);});
  for(var j=0;j<fRightTicks.length;j++){var yy2=yR(fRightTicks[j]);mk("line",{x1:1175,y1:yy2,x2:1185,y2:yy2,stroke:"#000","stroke-width":1.5},g);txt(fRightTickLabels[j],{x:1182,y:yy2+7,"font-size":20,"text-anchor":"end"},g);}
  fTriples.forEach(function(t){
    var l=mk("path",{d:linePath([0,1,2],t,xr,yR),stroke:"#aaa","stroke-width":1.2,fill:"none"},g);
    
    
  });
  var bd2=mk("path",{d:bandPath([0,1,2],fTripleMean,fTripleSem,xr,yR),fill:"#7f9ad8",opacity:0.55},g);
  
  
  var ml2=mk("path",{d:linePath([0,1,2],fTripleMean,xr,yR),stroke:"#2a4fa0","stroke-width":2.5,fill:"none"},g);
  
  
})();

// ======================= PANEL I =======================
(function(){
  var ga=document.getElementById("ecogArrows");
  var ac=["#e8202a","#f7831e","#f9c830","#6cc88a","#1a9ad0","#5a3aa8","#f27ab8","#aaa"];
  for(var i=0;i<8;i++){
    var a=mk("line",{x1:1160+i*16,y1:1068,x2:1150+i*14,y2:1118+(i>5?10:0),stroke:ac[i],"stroke-width":2},ga);
    
    
  }
  mk("path",{d:"M1150,1124 Q1200,1118 1250,1128",stroke:"#ccc","stroke-width":3,"stroke-dasharray":"6,4",fill:"none"},ga);
  var g=document.getElementById("iplot");
  var xI=function(ms){return 1013+ms*4.43;}, yI=function(a){return 1492-a*0.31;};
  mk("line",{x1:1013,y1:1500,x2:1452,y2:1500,stroke:"#000","stroke-width":1.8},g);
  for(var k=0;k<=9;k++){var xx=xI(k*10);mk("line",{x1:xx,y1:1500,x2:xx,y2:(k%2?1510:1512),stroke:"#000","stroke-width":1.8},g);}
  for(var j=0;j<iXTicks.length;j++){txt(iXTickLabels[j],{x:xI(iXTicks[j]),y:1531,"font-size":21,"text-anchor":"middle"},g);}
  mk("line",{x1:xI(23.5),y1:1295,x2:xI(23.5),y2:1498,stroke:"#aaa","stroke-width":2.5,"stroke-dasharray":"8,5"},g);
  var tr=[[iGray,"#9a9a9a","gray"],[iPink,"#f27ab8","pink"],[iPurple,"#5a3aa8","purple"],[iTeal,"#1a92c0","teal"],[iGreen,"#7cc890","green"],[iYellow,"#fbd060","yellow"],[iOrange,"#f07c2a","orange"],[iRed,"#e8202a","red"]];
  tr.forEach(function(t){
    var l=mk("path",{d:linePath(iTimes,t[0],xI,yI),stroke:t[1],"stroke-width":2.5,fill:"none","stroke-linejoin":"round"},g);
    
    
  });
})();
</script>
</body></html>
